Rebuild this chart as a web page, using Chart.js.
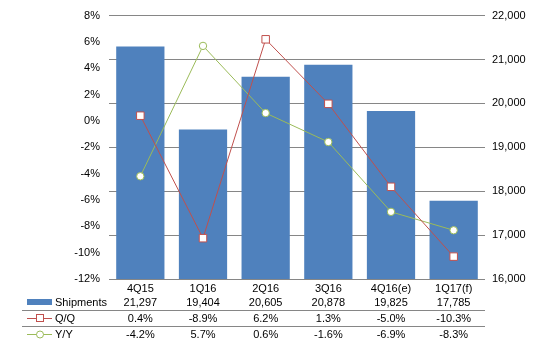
<!DOCTYPE html>
<html>
<head>
<meta charset="utf-8">
<script src="https://cdn.jsdelivr.net/npm/chart.js@4.4.1/dist/chart.umd.min.js"></script>
<style>
  html, body { margin: 0; padding: 0; background: #fff; }
</style>
</head>
<body>
<canvas id="shipChart" width="539" height="350"></canvas>
<script>
// data
var categories = ['4Q15', '1Q16', '2Q16', '3Q16', '4Q16(e)', '1Q17(f)'];
var shipments = [21297, 19404, 20605, 20878, 19825, 17785];
var qoq = [0.4, -8.9, 6.2, 1.3, -5.0, -10.3];
var yoy = [-4.2, 5.7, 0.6, -1.6, -6.9, -8.3];

var pctMin = -12, pctMax = 8, pctStep = 2;
var unitMin = 16000, unitMax = 22000, unitStep = 1000;

var blue = '#4F81BD';
var red = '#C0504D';
var green = '#9BBB59';
var gridGray = '#868686';
var font = { family: '"Liberation Sans", Arial, sans-serif', size: 11 };

Chart.defaults.font.family = font.family;
Chart.defaults.font.size = font.size;
Chart.defaults.color = '#000';

// draws the data table under the plot
var dataTable = {
    id: 'dataTable',
    afterDraw: function (chart) {
        var c = chart.ctx;
        var x = chart.scales.x;
        var rows = [
            { y: 302, label: 'Shipments', vals: shipments.map(function (v) { return v.toLocaleString('en-US'); }) },
            { y: 318, label: 'Q/Q', vals: qoq.map(function (v) { return v.toFixed(1) + '%'; }) },
            { y: 334, label: 'Y/Y', vals: yoy.map(function (v) { return v.toFixed(1) + '%'; }) }
        ];
        c.save();
        c.strokeStyle = gridGray;
        c.lineWidth = 1;
        [310.5, 326.5].forEach(function (ly) {
            c.beginPath();
            c.moveTo(22, ly);
            c.lineTo(chart.chartArea.right, ly);
            c.stroke();
        });

        // legend keys
        c.fillStyle = blue;
        c.fillRect(27, 299, 25, 6);

        c.strokeStyle = red;
        c.beginPath(); c.moveTo(27, 318.5); c.lineTo(52, 318.5); c.stroke();
        c.fillStyle = '#fff';
        c.fillRect(36.5, 314.5, 7, 7);
        c.strokeRect(36.5, 314.5, 7, 7);

        c.strokeStyle = green;
        c.beginPath(); c.moveTo(27, 334.5); c.lineTo(52, 334.5); c.stroke();
        c.beginPath(); c.arc(40, 334.5, 3.5, 0, Math.PI * 2); c.fill(); c.stroke();

        c.fillStyle = '#000';
        c.font = font.size + 'px ' + font.family;
        c.textBaseline = 'middle';
        rows.forEach(function (r) {
            c.textAlign = 'left';
            c.fillText(r.label, 55, r.y + 0.5);
            c.textAlign = 'center';
            r.vals.forEach(function (v, i) {
                c.fillText(v, x.getPixelForValue(i), r.y + 0.5);
            });
        });
        c.restore();
    }
};

new Chart(document.getElementById('shipChart'), {
    type: 'bar',
    data: {
        labels: categories,
        datasets: [{
            label: 'Shipments',
            data: shipments,
            yAxisID: 'y1',
            backgroundColor: blue,
            barPercentage: 0.77,
            categoryPercentage: 1,
            order: 3
        }, {
            type: 'line',
            label: 'Q/Q',
            data: qoq,
            yAxisID: 'y',
            borderColor: red,
            borderWidth: 1,
            pointStyle: 'rect',
            pointRadius: 5.3,
            pointBackgroundColor: '#fff',
            pointBorderColor: red,
            pointBorderWidth: 1,
            order: 1
        }, {
            type: 'line',
            label: 'Y/Y',
            data: yoy,
            yAxisID: 'y',
            borderColor: green,
            borderWidth: 1,
            pointStyle: 'circle',
            pointRadius: 3.7,
            pointBackgroundColor: '#fff',
            pointBorderColor: green,
            pointBorderWidth: 1,
            order: 2
        }]
    },
    options: {
        responsive: false,
        animation: false,
        layout: { padding: { top: 14, left: 0, right: 0, bottom: 0 } },
        plugins: {
            legend: { display: false },
            tooltip: { enabled: false }
        },
        scales: {
            x: {
                offset: true,
                grid: { display: false },
                border: { display: false },
                ticks: { autoSkip: false, maxRotation: 0, padding: -5 },
                afterFit: function (s) { s.height = 71; }
            },
            y: {
                position: 'left',
                min: pctMin,
                max: pctMax,
                grid: { display: false, drawTicks: false },
                border: { display: false },
                ticks: {
                    stepSize: pctStep,
                    padding: 9,
                    callback: function (v) { return v + '%'; }
                },
                afterFit: function (s) { s.width = 109; }
            },
            y1: {
                position: 'right',
                min: unitMin,
                max: unitMax,
                grid: { color: gridGray, lineWidth: 1, drawTicks: false },
                border: { display: false },
                ticks: {
                    stepSize: unitStep,
                    padding: 7,
                    callback: function (v) { return v.toLocaleString('en-US'); }
                },
                afterFit: function (s) { s.width = 54; }
            }
        }
    },
    plugins: [dataTable]
});
</script>
</body>
</html>
